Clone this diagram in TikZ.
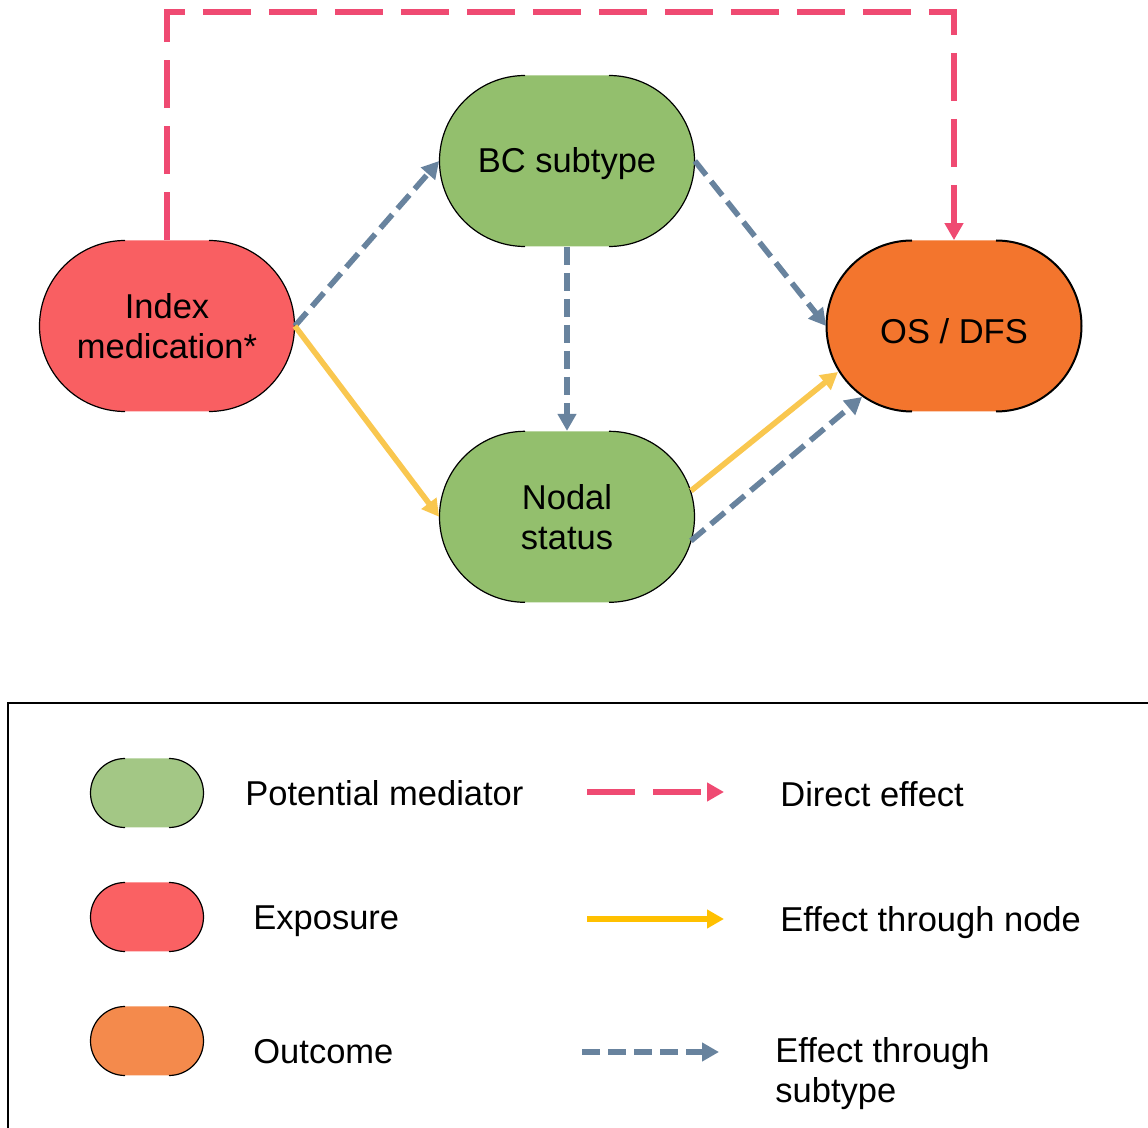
\documentclass[tikz,border=0pt]{standalone}
\usepackage{fontspec}
\setmainfont{Liberation Sans}
\usetikzlibrary{arrows.meta,positioning,shapes.misc}
\definecolor{medgreen}{HTML}{93BF6D}
\definecolor{expred}{HTML}{F95F62}
\definecolor{outorange}{HTML}{F3752D}
\definecolor{lggreen}{HTML}{A3C785}
\definecolor{lgred}{HTML}{FA6163}
\definecolor{lgorange}{HTML}{F48A4C}
\definecolor{directpink}{HTML}{EF4A72}
\definecolor{nodeyellow}{HTML}{F9C74F}
\definecolor{lgyellow}{HTML}{FFC000}
\definecolor{subtypeblue}{HTML}{68839E}
\newcommand{\labelfont}{\fontsize{17.25pt}{20pt}\selectfont}
% outline only on the two round ends of a node
\newcommand{\nodecaps}[4][0.6pt]{%
    \draw[line width=#1] ([shift={(-#3,#4)}]#2.center) arc[start angle=90,end angle=270,radius=#4];
    \draw[line width=#1] ([shift={(#3,-#4)}]#2.center) arc[start angle=-90,end angle=90,radius=#4];}
\tikzset{
    capnode/.style={rounded rectangle,fill=#1,minimum width=127.5pt,minimum height=85.5pt,inner sep=0pt,align=center,font=\labelfont},
    legendcap/.style={rounded rectangle,fill=#1,minimum width=56.5pt,minimum height=34.5pt,inner sep=0pt},
    legendtext/.style={anchor=base west,inner sep=0pt,font=\labelfont},
    legendframe/.style={draw=black,line width=1pt},
    directline/.style={draw=directpink,line width=2.8pt,dash pattern=on 24pt off 9pt,-{Triangle[length=8.5pt,width=9pt]}},
    nodeline/.style={draw=nodeyellow,line width=2.8pt,-{Triangle[length=8.5pt,width=9pt]}},
    subtypeline/.style={draw=subtypeblue,line width=2.8pt,dash pattern=on 9pt off 4pt,-{Triangle[length=8.5pt,width=9pt]}}
}
\begin{document}
\begin{tikzpicture}[x=0.5pt,y=-0.5pt]
    \useasboundingbox (0,0) rectangle (1148,1128);
    \clip (0,0) rectangle (1148,1128);
    % diagram
    \node[capnode=expred] (idx) at (167,326) {Index\\medication*};
    \node[capnode=medgreen] (bc) at (567,161) {\raisebox{-6pt}[0pt][0pt]{BC subtype}};
    \node[capnode=medgreen,below=92pt of bc] (nodal) {Nodal\\status};
    \node[capnode=outorange] (os) at (954,326) {\raisebox{-9pt}[0pt][0pt]{OS / DFS}};
    \nodecaps{idx}{21pt}{42.75pt}
    \nodecaps{bc}{21pt}{42.75pt}
    \nodecaps{nodal}{21pt}{42.75pt}
    \nodecaps[1pt]{os}{21pt}{42.75pt}
    \coordinate (topbend) at (560,12);
    \draw[directline] (idx.north) |- (topbend) -| (os.north);
    \draw[subtypeline] (idx.east) -- (bc.west);
    \draw[nodeline] (idx.east) -- (nodal.west);
    \draw[subtypeline] (bc.south) -- (nodal.north);
    \draw[subtypeline] (bc.east) -- (os.west);
    \draw[nodeline] ([shift={(62pt,13pt)}]nodal.center) -- ([shift={(-58pt,-23pt)}]os.center);
    \draw[subtypeline] ([shift={(62pt,-12pt)}]nodal.center) -- ([shift={(-46pt,-35.5pt)}]os.center);
    % legend
    \draw[legendframe] (8,703) rectangle (1170,1150);
    \node[legendcap=lggreen] (lgmed) at (147,793) {};
    \node[legendcap=lgred] (lgexp) at (147,917) {};
    \node[legendcap=lgorange] (lgout) at (147,1041) {};
    \nodecaps{lgmed}{11pt}{17.25pt}
    \nodecaps{lgexp}{11pt}{17.25pt}
    \nodecaps{lgout}{11pt}{17.25pt}
    \node[legendtext] (lgmedtxt) at (245,806) {Potential mediator};
    \node[legendtext] (lgexptxt) at (253,930) {Exposure};
    \node[legendtext] (lgouttxt) at (253,1064) {Outcome};
    \coordinate (lgdirA) at (587,792);
    \coordinate (lgdirB) at (724,792);
    \coordinate (lgnodeA) at (587,919);
    \coordinate (lgnodeB) at (724,919);
    \coordinate (lgsubA) at (582,1052);
    \coordinate (lgsubB) at (719,1052);
    \draw[directline] (lgdirA) -- (lgdirB);
    \draw[nodeline,draw=lgyellow] (lgnodeA) -- (lgnodeB);
    \draw[subtypeline] (lgsubA) -- (lgsubB);
    \node[legendtext] (lgdirtxt) at (780,807) {Direct effect};
    \node[legendtext] (lgnodetxt) at (780,932) {Effect through node};
    \node[legendtext,anchor=west,align=left] (lgsubtxt) at (775,1074) {Effect through\\subtype};
\end{tikzpicture}
\end{document}
